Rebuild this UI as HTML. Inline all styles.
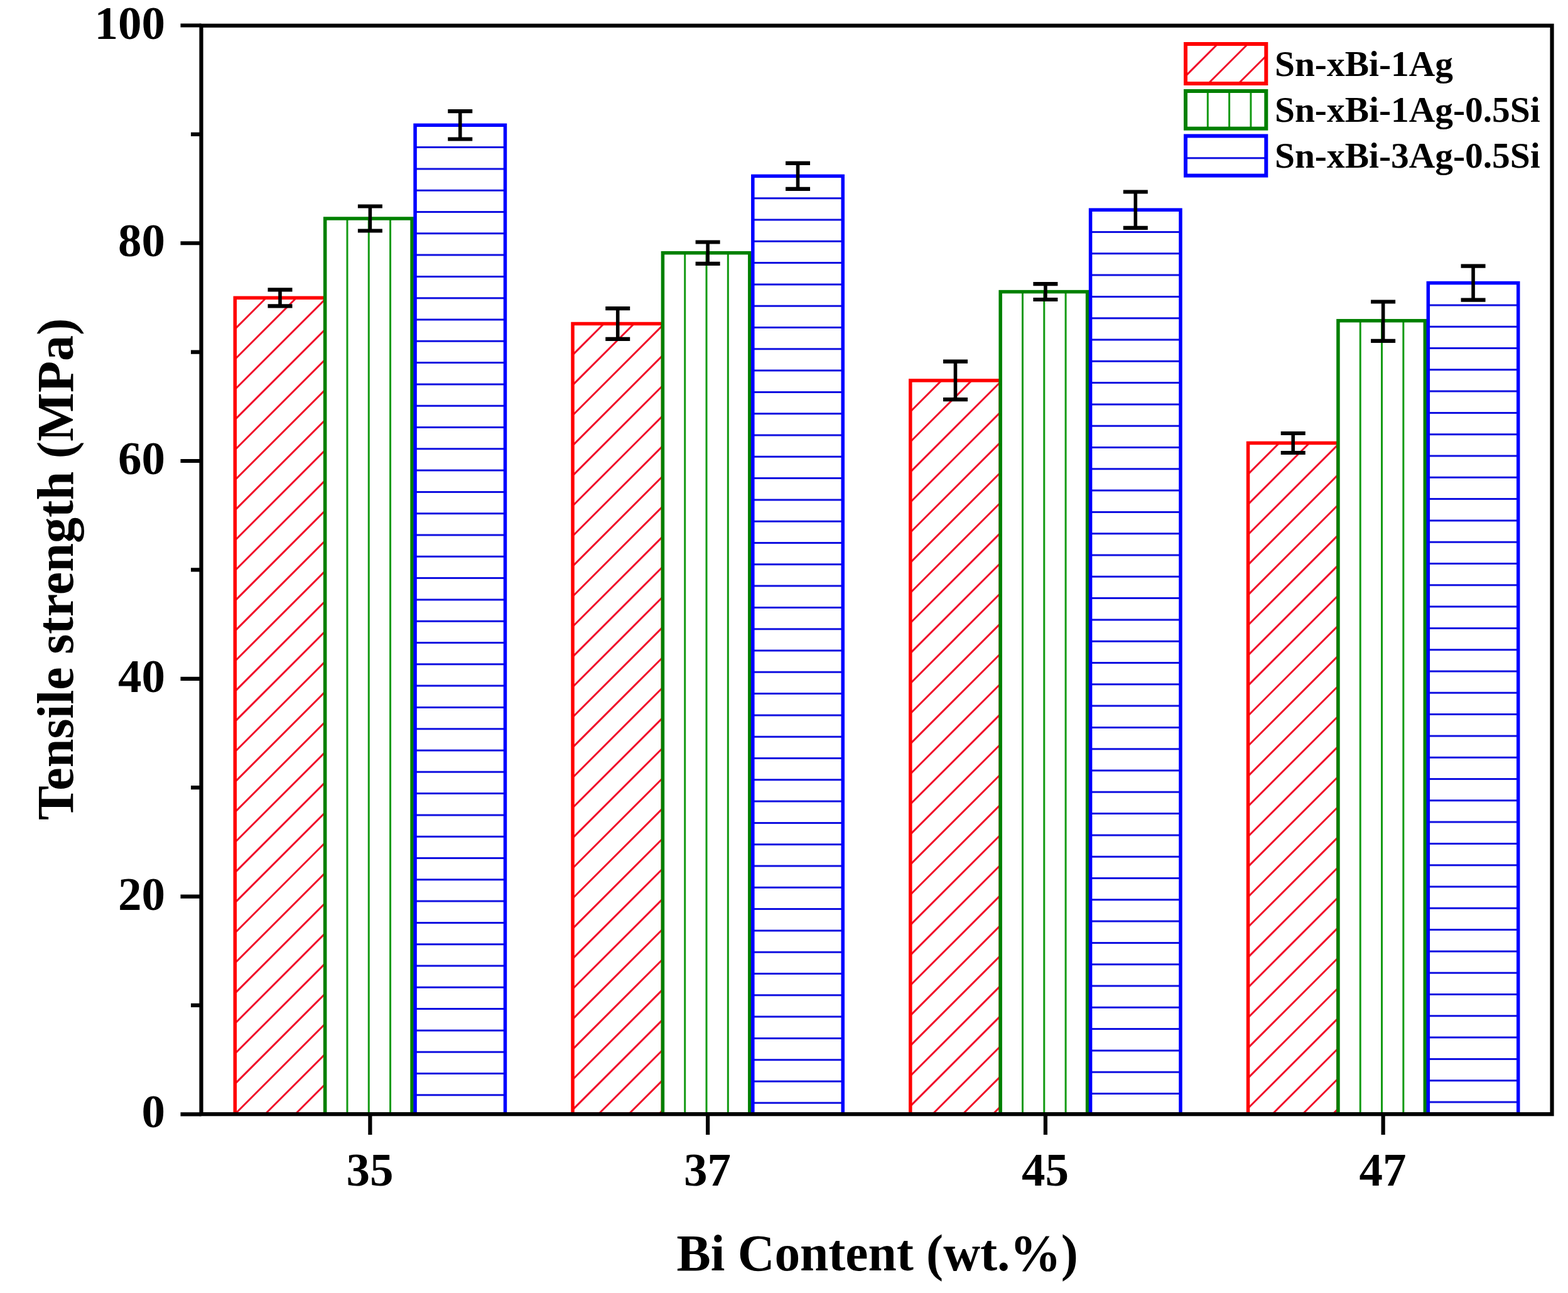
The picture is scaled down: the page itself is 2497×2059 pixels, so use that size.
<!DOCTYPE html>
<html><head><meta charset="utf-8"><title>Tensile strength vs Bi content</title>
<style>
html,body{margin:0;padding:0;background:#fff;overflow:hidden;}
svg{display:block;}
text{font-family:"Liberation Serif","Times New Roman",serif;font-weight:bold;fill:#000;}
</style></head><body>
<svg width="2497" height="2059" viewBox="0 0 2497 2059">
<rect width="2497" height="2059" fill="#fff"/>
<rect x="374.27" y="474.30" width="143.40" height="1299.90" fill="#fff"/>
<path d="M374.27 523.88L423.86 474.30M374.27 571.96L471.94 474.30M374.27 620.04L517.67 476.64M374.27 668.12L517.67 524.72M374.27 716.20L517.67 572.80M374.27 764.28L517.67 620.88M374.27 812.36L517.67 668.96M374.27 860.44L517.67 717.04M374.27 908.52L517.67 765.12M374.27 956.60L517.67 813.20M374.27 1004.68L517.67 861.28M374.27 1052.76L517.67 909.36M374.27 1100.84L517.67 957.44M374.27 1148.92L517.67 1005.52M374.27 1197.00L517.67 1053.60M374.27 1245.08L517.67 1101.68M374.27 1293.16L517.67 1149.76M374.27 1341.24L517.67 1197.84M374.27 1389.32L517.67 1245.92M374.27 1437.40L517.67 1294.00M374.27 1485.48L517.67 1342.08M374.27 1533.56L517.67 1390.16M374.27 1581.64L517.67 1438.24M374.27 1629.72L517.67 1486.32M374.27 1677.80L517.67 1534.40M374.27 1725.88L517.67 1582.48M374.27 1773.96L517.67 1630.56M422.12 1774.20L517.67 1678.64M470.19 1774.20L517.67 1726.72" stroke="#f0102a" stroke-width="3.0" fill="none"/>
<rect x="374.27" y="474.30" width="143.40" height="1299.90" fill="none" stroke="#ff0000" stroke-width="5.5"/>
<rect x="517.67" y="348.00" width="138.40" height="1426.20" fill="#fff"/>
<path d="M552.97 348.00V1774.20M587.27 348.00V1774.20M621.57 348.00V1774.20" stroke="#139a13" stroke-width="3.0" fill="none"/>
<rect x="517.67" y="348.00" width="138.40" height="1426.20" fill="none" stroke="#008000" stroke-width="5.5"/>
<rect x="661.08" y="199.30" width="143.40" height="1574.90" fill="#fff"/>
<path d="M661.08 234.60H804.48M661.08 268.90H804.48M661.08 303.20H804.48M661.08 337.50H804.48M661.08 371.80H804.48M661.08 406.10H804.48M661.08 440.40H804.48M661.08 474.70H804.48M661.08 509.00H804.48M661.08 543.30H804.48M661.08 577.60H804.48M661.08 611.90H804.48M661.08 646.20H804.48M661.08 680.50H804.48M661.08 714.80H804.48M661.08 749.10H804.48M661.08 783.40H804.48M661.08 817.70H804.48M661.08 852.00H804.48M661.08 886.30H804.48M661.08 920.60H804.48M661.08 954.90H804.48M661.08 989.20H804.48M661.08 1023.50H804.48M661.08 1057.80H804.48M661.08 1092.10H804.48M661.08 1126.40H804.48M661.08 1160.70H804.48M661.08 1195.00H804.48M661.08 1229.30H804.48M661.08 1263.60H804.48M661.08 1297.90H804.48M661.08 1332.20H804.48M661.08 1366.50H804.48M661.08 1400.80H804.48M661.08 1435.10H804.48M661.08 1469.40H804.48M661.08 1503.70H804.48M661.08 1538.00H804.48M661.08 1572.30H804.48M661.08 1606.60H804.48M661.08 1640.90H804.48M661.08 1675.20H804.48M661.08 1709.50H804.48M661.08 1743.80H804.48" stroke="#1010e0" stroke-width="3.0" fill="none"/>
<rect x="661.08" y="199.30" width="143.40" height="1574.90" fill="none" stroke="#0000ff" stroke-width="5.5"/>
<rect x="912.02" y="515.50" width="143.40" height="1258.70" fill="#fff"/>
<path d="M912.02 565.08L961.61 515.50M912.02 613.16L1009.69 515.50M912.02 661.24L1055.42 517.84M912.02 709.32L1055.42 565.92M912.02 757.40L1055.42 614.00M912.02 805.48L1055.42 662.08M912.02 853.56L1055.42 710.16M912.02 901.64L1055.42 758.24M912.02 949.72L1055.42 806.32M912.02 997.80L1055.42 854.40M912.02 1045.88L1055.42 902.48M912.02 1093.96L1055.42 950.56M912.02 1142.04L1055.42 998.64M912.02 1190.12L1055.42 1046.72M912.02 1238.20L1055.42 1094.80M912.02 1286.28L1055.42 1142.88M912.02 1334.36L1055.42 1190.96M912.02 1382.44L1055.42 1239.04M912.02 1430.52L1055.42 1287.12M912.02 1478.60L1055.42 1335.20M912.02 1526.68L1055.42 1383.28M912.02 1574.76L1055.42 1431.36M912.02 1622.84L1055.42 1479.44M912.02 1670.92L1055.42 1527.52M912.02 1719.00L1055.42 1575.60M912.02 1767.08L1055.42 1623.68M952.98 1774.20L1055.42 1671.76M1001.07 1774.20L1055.42 1719.84M1049.15 1774.20L1055.42 1767.92" stroke="#f0102a" stroke-width="3.0" fill="none"/>
<rect x="912.02" y="515.50" width="143.40" height="1258.70" fill="none" stroke="#ff0000" stroke-width="5.5"/>
<rect x="1055.42" y="402.70" width="138.40" height="1371.50" fill="#fff"/>
<path d="M1090.72 402.70V1774.20M1125.02 402.70V1774.20M1159.33 402.70V1774.20" stroke="#139a13" stroke-width="3.0" fill="none"/>
<rect x="1055.42" y="402.70" width="138.40" height="1371.50" fill="none" stroke="#008000" stroke-width="5.5"/>
<rect x="1198.83" y="280.40" width="143.40" height="1493.80" fill="#fff"/>
<path d="M1198.83 315.70H1342.23M1198.83 350.00H1342.23M1198.83 384.30H1342.23M1198.83 418.60H1342.23M1198.83 452.90H1342.23M1198.83 487.20H1342.23M1198.83 521.50H1342.23M1198.83 555.80H1342.23M1198.83 590.10H1342.23M1198.83 624.40H1342.23M1198.83 658.70H1342.23M1198.83 693.00H1342.23M1198.83 727.30H1342.23M1198.83 761.60H1342.23M1198.83 795.90H1342.23M1198.83 830.20H1342.23M1198.83 864.50H1342.23M1198.83 898.80H1342.23M1198.83 933.10H1342.23M1198.83 967.40H1342.23M1198.83 1001.70H1342.23M1198.83 1036.00H1342.23M1198.83 1070.30H1342.23M1198.83 1104.60H1342.23M1198.83 1138.90H1342.23M1198.83 1173.20H1342.23M1198.83 1207.50H1342.23M1198.83 1241.80H1342.23M1198.83 1276.10H1342.23M1198.83 1310.40H1342.23M1198.83 1344.70H1342.23M1198.83 1379.00H1342.23M1198.83 1413.30H1342.23M1198.83 1447.60H1342.23M1198.83 1481.90H1342.23M1198.83 1516.20H1342.23M1198.83 1550.50H1342.23M1198.83 1584.80H1342.23M1198.83 1619.10H1342.23M1198.83 1653.40H1342.23M1198.83 1687.70H1342.23M1198.83 1722.00H1342.23M1198.83 1756.30H1342.23" stroke="#1010e0" stroke-width="3.0" fill="none"/>
<rect x="1198.83" y="280.40" width="143.40" height="1493.80" fill="none" stroke="#0000ff" stroke-width="5.5"/>
<rect x="1449.78" y="605.90" width="143.40" height="1168.30" fill="#fff"/>
<path d="M1449.78 655.48L1499.36 605.90M1449.78 703.56L1547.43 605.90M1449.78 751.64L1593.18 608.24M1449.78 799.72L1593.18 656.32M1449.78 847.80L1593.18 704.40M1449.78 895.88L1593.18 752.48M1449.78 943.96L1593.18 800.56M1449.78 992.04L1593.18 848.64M1449.78 1040.12L1593.18 896.72M1449.78 1088.20L1593.18 944.80M1449.78 1136.28L1593.18 992.88M1449.78 1184.36L1593.18 1040.96M1449.78 1232.44L1593.18 1089.04M1449.78 1280.52L1593.18 1137.12M1449.78 1328.60L1593.18 1185.20M1449.78 1376.68L1593.18 1233.28M1449.78 1424.76L1593.18 1281.36M1449.78 1472.84L1593.18 1329.44M1449.78 1520.92L1593.18 1377.52M1449.78 1569.00L1593.18 1425.60M1449.78 1617.08L1593.18 1473.68M1449.78 1665.16L1593.18 1521.76M1449.78 1713.24L1593.18 1569.84M1449.78 1761.32L1593.18 1617.92M1484.98 1774.20L1593.18 1666.00M1533.06 1774.20L1593.18 1714.08M1581.13 1774.20L1593.18 1762.16" stroke="#f0102a" stroke-width="3.0" fill="none"/>
<rect x="1449.78" y="605.90" width="143.40" height="1168.30" fill="none" stroke="#ff0000" stroke-width="5.5"/>
<rect x="1593.17" y="464.60" width="138.40" height="1309.60" fill="#fff"/>
<path d="M1628.47 464.60V1774.20M1662.77 464.60V1774.20M1697.08 464.60V1774.20" stroke="#139a13" stroke-width="3.0" fill="none"/>
<rect x="1593.17" y="464.60" width="138.40" height="1309.60" fill="none" stroke="#008000" stroke-width="5.5"/>
<rect x="1736.58" y="334.20" width="143.40" height="1440.00" fill="#fff"/>
<path d="M1736.58 369.50H1879.98M1736.58 403.80H1879.98M1736.58 438.10H1879.98M1736.58 472.40H1879.98M1736.58 506.70H1879.98M1736.58 541.00H1879.98M1736.58 575.30H1879.98M1736.58 609.60H1879.98M1736.58 643.90H1879.98M1736.58 678.20H1879.98M1736.58 712.50H1879.98M1736.58 746.80H1879.98M1736.58 781.10H1879.98M1736.58 815.40H1879.98M1736.58 849.70H1879.98M1736.58 884.00H1879.98M1736.58 918.30H1879.98M1736.58 952.60H1879.98M1736.58 986.90H1879.98M1736.58 1021.20H1879.98M1736.58 1055.50H1879.98M1736.58 1089.80H1879.98M1736.58 1124.10H1879.98M1736.58 1158.40H1879.98M1736.58 1192.70H1879.98M1736.58 1227.00H1879.98M1736.58 1261.30H1879.98M1736.58 1295.60H1879.98M1736.58 1329.90H1879.98M1736.58 1364.20H1879.98M1736.58 1398.50H1879.98M1736.58 1432.80H1879.98M1736.58 1467.10H1879.98M1736.58 1501.40H1879.98M1736.58 1535.70H1879.98M1736.58 1570.00H1879.98M1736.58 1604.30H1879.98M1736.58 1638.60H1879.98M1736.58 1672.90H1879.98M1736.58 1707.20H1879.98M1736.58 1741.50H1879.98" stroke="#1010e0" stroke-width="3.0" fill="none"/>
<rect x="1736.58" y="334.20" width="143.40" height="1440.00" fill="none" stroke="#0000ff" stroke-width="5.5"/>
<rect x="1987.53" y="705.50" width="143.40" height="1068.70" fill="#fff"/>
<path d="M1987.53 755.08L2037.11 705.50M1987.53 803.16L2085.18 705.50M1987.53 851.24L2130.93 707.84M1987.53 899.32L2130.93 755.92M1987.53 947.40L2130.93 804.00M1987.53 995.48L2130.93 852.08M1987.53 1043.56L2130.93 900.16M1987.53 1091.64L2130.93 948.24M1987.53 1139.72L2130.93 996.32M1987.53 1187.80L2130.93 1044.40M1987.53 1235.88L2130.93 1092.48M1987.53 1283.96L2130.93 1140.56M1987.53 1332.04L2130.93 1188.64M1987.53 1380.12L2130.93 1236.72M1987.53 1428.20L2130.93 1284.80M1987.53 1476.28L2130.93 1332.88M1987.53 1524.36L2130.93 1380.96M1987.53 1572.44L2130.93 1429.04M1987.53 1620.52L2130.93 1477.12M1987.53 1668.60L2130.93 1525.20M1987.53 1716.68L2130.93 1573.28M1987.53 1764.76L2130.93 1621.36M2026.16 1774.20L2130.93 1669.44M2074.24 1774.20L2130.93 1717.52M2122.32 1774.20L2130.93 1765.60" stroke="#f0102a" stroke-width="3.0" fill="none"/>
<rect x="1987.53" y="705.50" width="143.40" height="1068.70" fill="none" stroke="#ff0000" stroke-width="5.5"/>
<rect x="2130.93" y="510.70" width="138.40" height="1263.50" fill="#fff"/>
<path d="M2166.23 510.70V1774.20M2200.53 510.70V1774.20M2234.83 510.70V1774.20" stroke="#139a13" stroke-width="3.0" fill="none"/>
<rect x="2130.93" y="510.70" width="138.40" height="1263.50" fill="none" stroke="#008000" stroke-width="5.5"/>
<rect x="2274.32" y="450.60" width="143.40" height="1323.60" fill="#fff"/>
<path d="M2274.32 485.90H2417.72M2274.32 520.20H2417.72M2274.32 554.50H2417.72M2274.32 588.80H2417.72M2274.32 623.10H2417.72M2274.32 657.40H2417.72M2274.32 691.70H2417.72M2274.32 726.00H2417.72M2274.32 760.30H2417.72M2274.32 794.60H2417.72M2274.32 828.90H2417.72M2274.32 863.20H2417.72M2274.32 897.50H2417.72M2274.32 931.80H2417.72M2274.32 966.10H2417.72M2274.32 1000.40H2417.72M2274.32 1034.70H2417.72M2274.32 1069.00H2417.72M2274.32 1103.30H2417.72M2274.32 1137.60H2417.72M2274.32 1171.90H2417.72M2274.32 1206.20H2417.72M2274.32 1240.50H2417.72M2274.32 1274.80H2417.72M2274.32 1309.10H2417.72M2274.32 1343.40H2417.72M2274.32 1377.70H2417.72M2274.32 1412.00H2417.72M2274.32 1446.30H2417.72M2274.32 1480.60H2417.72M2274.32 1514.90H2417.72M2274.32 1549.20H2417.72M2274.32 1583.50H2417.72M2274.32 1617.80H2417.72M2274.32 1652.10H2417.72M2274.32 1686.40H2417.72M2274.32 1720.70H2417.72M2274.32 1755.00H2417.72" stroke="#1010e0" stroke-width="3.0" fill="none"/>
<rect x="2274.32" y="450.60" width="143.40" height="1323.60" fill="none" stroke="#0000ff" stroke-width="5.5"/>
<path d="M445.98 461.30V487.30" stroke="#000" stroke-width="5.6"/>
<path d="M426.48 461.30H465.48M426.48 487.30H465.48" stroke="#000" stroke-width="6.2"/>
<path d="M589.38 328.50V367.50" stroke="#000" stroke-width="5.6"/>
<path d="M569.88 328.50H608.88M569.88 367.50H608.88" stroke="#000" stroke-width="6.2"/>
<path d="M732.77 177.10V221.50" stroke="#000" stroke-width="5.6"/>
<path d="M713.27 177.10H752.27M713.27 221.50H752.27" stroke="#000" stroke-width="6.2"/>
<path d="M983.73 491.10V539.90" stroke="#000" stroke-width="5.6"/>
<path d="M964.23 491.10H1003.23M964.23 539.90H1003.23" stroke="#000" stroke-width="6.2"/>
<path d="M1127.12 385.50V419.90" stroke="#000" stroke-width="5.6"/>
<path d="M1107.62 385.50H1146.62M1107.62 419.90H1146.62" stroke="#000" stroke-width="6.2"/>
<path d="M1270.53 259.90V300.90" stroke="#000" stroke-width="5.6"/>
<path d="M1251.03 259.90H1290.03M1251.03 300.90H1290.03" stroke="#000" stroke-width="6.2"/>
<path d="M1521.47 575.60V636.20" stroke="#000" stroke-width="5.6"/>
<path d="M1501.97 575.60H1540.97M1501.97 636.20H1540.97" stroke="#000" stroke-width="6.2"/>
<path d="M1664.88 452.20V477.00" stroke="#000" stroke-width="5.6"/>
<path d="M1645.38 452.20H1684.38M1645.38 477.00H1684.38" stroke="#000" stroke-width="6.2"/>
<path d="M1808.28 305.50V362.90" stroke="#000" stroke-width="5.6"/>
<path d="M1788.78 305.50H1827.78M1788.78 362.90H1827.78" stroke="#000" stroke-width="6.2"/>
<path d="M2059.22 690.00V721.00" stroke="#000" stroke-width="5.6"/>
<path d="M2039.72 690.00H2078.72M2039.72 721.00H2078.72" stroke="#000" stroke-width="6.2"/>
<path d="M2202.62 480.50V542.90" stroke="#000" stroke-width="5.6"/>
<path d="M2183.12 480.50H2222.12M2183.12 542.90H2222.12" stroke="#000" stroke-width="6.2"/>
<path d="M2346.03 423.60V477.60" stroke="#000" stroke-width="5.6"/>
<path d="M2326.53 423.60H2365.53M2326.53 477.60H2365.53" stroke="#000" stroke-width="6.2"/>
<path d="M287.5 1774.30H320.50M287.5 1427.54H320.50M287.5 1080.78H320.50M287.5 734.02H320.50M287.5 387.26H320.50M287.5 40.50H320.50M304 1600.92H320.50M304 1254.16H320.50M304 907.40H320.50M304 560.64H320.50M304 213.88H320.50M589.38 1774.20V1807M1127.12 1774.20V1807M1664.88 1774.20V1807M2202.62 1774.20V1807" stroke="#000" stroke-width="6.2" fill="none"/>
<rect x="320.5" y="40.8" width="2151.0" height="1733.4" fill="none" stroke="#000" stroke-width="6.2" stroke-linejoin="miter"/>
<text x="263" y="1795.3" text-anchor="end" font-size="75">0</text>
<text x="263" y="1448.5" text-anchor="end" font-size="75">20</text>
<text x="263" y="1101.8" text-anchor="end" font-size="75">40</text>
<text x="263" y="755.0" text-anchor="end" font-size="75">60</text>
<text x="263" y="408.3" text-anchor="end" font-size="75">80</text>
<text x="263" y="61.5" text-anchor="end" font-size="75">100</text>
<text x="588.9" y="1888" text-anchor="middle" font-size="75">35</text>
<text x="1126.6" y="1888" text-anchor="middle" font-size="75">37</text>
<text x="1664.4" y="1888" text-anchor="middle" font-size="75">45</text>
<text x="2202.1" y="1888" text-anchor="middle" font-size="75">47</text>
<text transform="translate(1077.5 2022.5) scale(0.98 1)" font-size="83">Bi Content (wt.%)</text>
<text transform="translate(116 1306) rotate(-90) scale(0.991 1)" font-size="83">Tensile strength (MPa)</text>
<rect x="1888" y="70" width="128.30" height="63.00" fill="#fff"/>
<path d="M1888.00 121.08L1939.08 70.00M1924.16 133.00L1987.16 70.00M1972.24 133.00L2016.30 88.94" stroke="#f0102a" stroke-width="3.0" fill="none"/>
<rect x="1888" y="70" width="128.30" height="63.00" fill="none" stroke="#ff0000" stroke-width="6"/>
<text transform="translate(2030 121) scale(0.99 1)" font-size="58">Sn-xBi-1Ag</text>
<rect x="1888" y="145" width="128.30" height="59.70" fill="#fff"/>
<path d="M1923.30 145.00V204.70M1957.60 145.00V204.70M1991.90 145.00V204.70" stroke="#139a13" stroke-width="3.0" fill="none"/>
<rect x="1888" y="145" width="128.30" height="59.70" fill="none" stroke="#008000" stroke-width="6"/>
<text transform="translate(2030 194.3) scale(0.99 1)" font-size="58">Sn-xBi-1Ag-0.5Si</text>
<rect x="1888" y="216.5" width="128.30" height="63.10" fill="#fff"/>
<path d="M1888.00 251.80H2016.30" stroke="#1010e0" stroke-width="3.0" fill="none"/>
<rect x="1888" y="216.5" width="128.30" height="63.10" fill="none" stroke="#0000ff" stroke-width="6"/>
<text transform="translate(2030 267) scale(0.99 1)" font-size="58">Sn-xBi-3Ag-0.5Si</text>
</svg>
</body></html>
